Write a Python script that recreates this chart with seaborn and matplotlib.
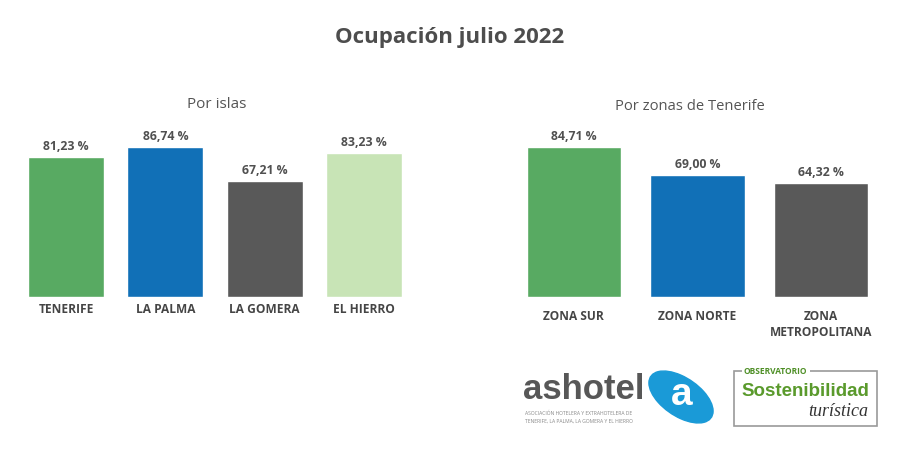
import matplotlib
matplotlib.use("Agg")
import matplotlib.pyplot as plt
import seaborn as sns
import pandas as pd
from matplotlib.patches import Rectangle, Ellipse

# -------------------------------
# Data
# -------------------------------
islas = ["TENERIFE", "LA PALMA", "LA GOMERA", "EL HIERRO"]
islas_ocupacion = [81.23, 86.74, 67.21, 83.23]
islas_colores = ["#58aa62", "#1170b7", "#595959", "#c8e4b6"]

zonas = ["ZONA SUR", "ZONA NORTE", "ZONA\nMETROPOLITANA"]
zonas_ocupacion = [84.71, 69.00, 64.32]
zonas_colores = ["#58aa62", "#1170b7", "#595959"]

TEXT_GRAY = "#505050"
W, H = 900, 469


def fx(px):
    return px / W


def fy(py):
    return 1 - py / H


def fmt_pct(v):
    return f"{v:.2f}".replace(".", ",") + " %"


def draw_bars(ax, cats, vals, colors, tick_pad):
    df = pd.DataFrame({"cat": cats, "val": vals})
    sns.barplot(data=df, x="cat", y="val", hue="cat", palette=colors,
                width=0.765, legend=False, ax=ax, saturation=1)
    for cont in ax.containers:
        ax.bar_label(cont, labels=[fmt_pct(v.get_height()) for v in cont],
                     padding=3, fontsize=8.8, fontweight="bold", color=TEXT_GRAY)
    ax.set_xlim(-0.5, len(cats) - 0.5)
    ax.set_ylim(0, 100)
    ax.set_xlabel("")
    ax.set_ylabel("")
    ax.set_yticks([])
    sns.despine(ax=ax, left=True, bottom=True)
    ax.tick_params(axis="x", length=0, pad=tick_pad, labelsize=8.6, labelcolor="#454545")
    for lbl in ax.get_xticklabels():
        lbl.set_fontweight("bold")
        lbl.set_verticalalignment("top")
        lbl.set_linespacing(1.35)


sns.set_style("white")
plt.rcParams["font.family"] = ["Open Sans", "DejaVu Sans"]

fig = plt.figure(figsize=(9, 4.69), dpi=100)

# left chart: Por islas
ax1 = fig.add_axes([fx(16.4), fy(296.5), fx(397.3), 172 / H])
draw_bars(ax1, islas, islas_ocupacion, islas_colores, tick_pad=5)

# right chart: Por zonas de Tenerife
ax2 = fig.add_axes([fx(512), fy(296.5), fx(371), 176 / H])
draw_bars(ax2, zonas, zonas_ocupacion, zonas_colores, tick_pad=9.5)

# titles
fig.text(0.5, fy(38), "Ocupación julio 2022", ha="center", va="center",
         fontsize=16, fontweight="bold", color="#4d4d4d")
fig.text(fx(217), fy(105), "Por islas", ha="center", va="center",
         fontsize=11, color="#555555")
fig.text(fx(690), fy(107), "Por zonas de Tenerife", ha="center", va="center",
         fontsize=10.6, color="#555555")

# ashotel logo
fig.text(fx(523), fy(389), "ashotel", ha="left", va="center",
         fontsize=25, fontweight="bold", color="#575757",
         family=["Liberation Sans", "DejaVu Sans"])
blob = Ellipse((fx(681), fy(397)), fx(50), 56 / H, angle=25,
               transform=fig.transFigure, color="#1a9ad7", zorder=1)
fig.patches.append(blob)
fig.text(fx(682), fy(395), "a", ha="center", va="center", fontsize=28,
         fontweight="bold", color="white", family=["Liberation Sans", "DejaVu Sans"])
fig.text(fx(525), fy(413), "ASOCIACIÓN HOTELERA Y EXTRAHOTELERA DE", ha="left",
         va="center", fontsize=3.6, color="#888888")
fig.text(fx(525), fy(421.5), "TENERIFE, LA PALMA, LA GOMERA Y EL HIERRO", ha="left",
         va="center", fontsize=3.6, color="#888888")

# Observatorio logo
box = Rectangle((fx(734), fy(426)), fx(143), 55 / H, transform=fig.transFigure,
                fill=False, edgecolor="#9a9a9a", linewidth=1.2)
fig.patches.append(box)
fig.text(fx(744), fy(371), "OBSERVATORIO", ha="left", va="center", fontsize=6,
         fontweight="bold", color="#4e8f26",
         bbox=dict(facecolor="white", edgecolor="none", pad=1.5))
fig.text(fx(741), fy(391), "Sostenibilidad", ha="left", va="center", fontsize=13.5,
         fontweight="bold", color="#5a9a2c", family=["Liberation Sans", "DejaVu Sans"])
fig.text(fx(868), fy(411), "turística", ha="right", va="center", fontsize=13,
         style="italic", color="#333333", family=["Liberation Serif", "DejaVu Serif"])

fig.savefig("out.png", dpi=100, facecolor="white")
